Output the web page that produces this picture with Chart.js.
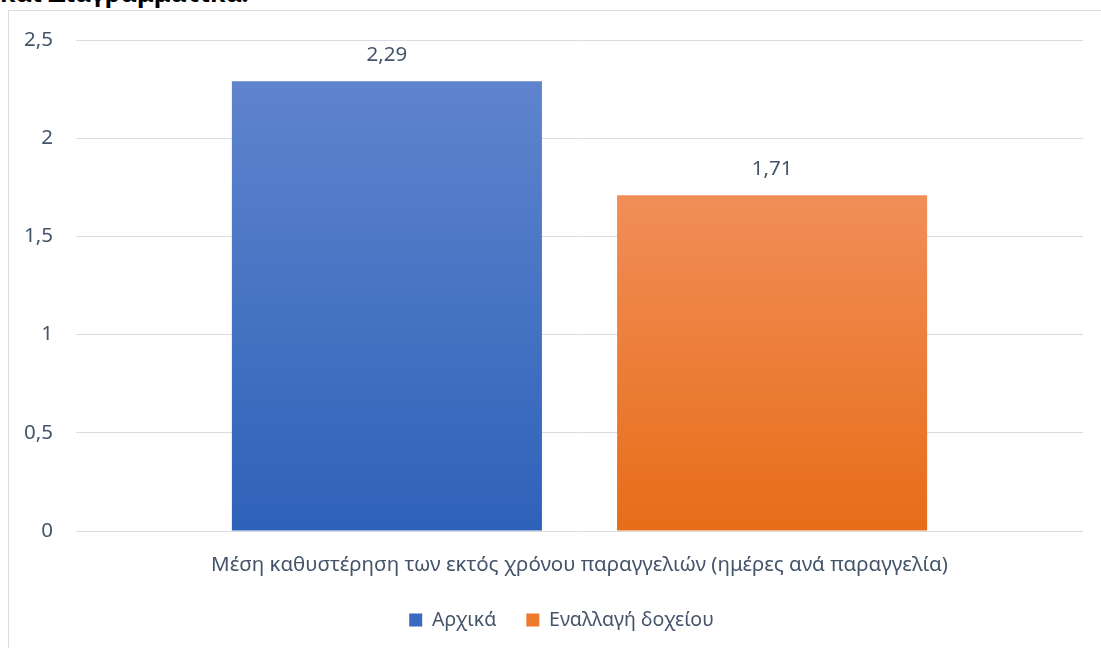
<!DOCTYPE html>
<html><head><meta charset="utf-8">
<script src="https://cdn.jsdelivr.net/npm/chart.js@4.4.1/dist/chart.umd.min.js"></script>
<style>
html,body{margin:0;padding:0;background:#fff;overflow:hidden;width:1101px;height:648px;position:relative}
#frame{position:absolute;left:8px;top:10px;width:1200px;height:700px;border:1px solid #D9DDE3;box-sizing:border-box}
#heading{position:absolute;left:0px;top:-22px;font:bold 25px 'Noto Sans';color:#000;white-space:nowrap;line-height:28px}
#wrap{position:absolute;left:0;top:0;width:1101px;height:648px}
</style>
</head><body>
<div id="heading">και Διαγραμματικά.</div>
<div id="frame"></div>
<div id="wrap"><canvas id="c"></canvas></div>
<script>
const categories = ["Μέση καθυστέρηση των εκτός χρόνου παραγγελιών (ημέρες ανά παραγγελία)"];
const seriesNames = ["Αρχικά", "Εναλλαγή δοχείου"];
const initialValues = [2.29];
const swapValues = [1.71];
const yTicks = [0, 0.5, 1, 1.5, 2, 2.5];

const FONT = "'Noto Sans'";
const TEXT = "#44546A";
const LEGEND_PAD = 30;
const LEGEND_FONT = 19.5;
const fmt = v => String(v).replace('.', ',');

function grad(top, bottom) {
  return function (ctx) {
    const chart = ctx.chart;
    const area = chart.chartArea;
    if (!area || ctx.parsed === undefined) return bottom;
    const y = chart.scales.y;
    const yTop = y.getPixelForValue(ctx.parsed.y);
    const yBot = y.getPixelForValue(0);
    const g = chart.ctx.createLinearGradient(0, yTop, 0, yBot);
    g.addColorStop(0, top);
    g.addColorStop(1, bottom);
    return g;
  };
}

const valueLabels = {
  id: 'valueLabels',
  afterDatasetsDraw(chart) {
    const c = chart.ctx;
    c.save();
    c.font = "20.5px " + FONT;
    c.fillStyle = TEXT;
    c.textAlign = 'center';
    c.textBaseline = 'middle';
    chart.data.datasets.forEach((ds, i) => {
      chart.getDatasetMeta(i).data.forEach((bar, j) => {
        c.fillText(fmt(ds.data[j]), bar.x, bar.y - 26);
      });
    });
    c.restore();
  }
};

const legendPlace = {
  id: 'legendPlace',
  afterLayout(chart) {
    const lg = chart.legend;
    if (!lg) return;
    lg.left += 20; lg.right += 20;
    const h = lg.bottom - lg.top;
    lg.top = 620 - LEGEND_PAD - LEGEND_FONT / 2;
    lg.bottom = lg.top + h;
  }
};

new Chart(document.getElementById('c'), {
  type: 'bar',
  data: {
    labels: categories,
    datasets: [
      { label: seriesNames[0], data: initialValues, backgroundColor: grad('#5F84CD', '#2E62B9'), legendColor: '#3A69C0' },
      { label: seriesNames[1], data: swapValues, backgroundColor: grad('#F18E58', '#E76D18'), legendColor: '#EE7A2C' }
    ]
  },
  options: {
    responsive: true,
    maintainAspectRatio: false,
    animation: false,
    categoryPercentage: 0.765,
    barPercentage: 0.805,
    layout: { padding: { left: 0, right: 18, top: 40, bottom: 0 } },
    plugins: {
      tooltip: { enabled: false },
      legend: {
        position: 'bottom',
        maxHeight: 57,
        labels: {
          font: { family: FONT, size: LEGEND_FONT },
          color: TEXT,
          boxWidth: 13,
          boxHeight: 13,
          padding: LEGEND_PAD,
          generateLabels(chart) {
            return chart.data.datasets.map((ds, i) => ({
              text: ds.label, fillStyle: ds.legendColor, strokeStyle: ds.legendColor,
              lineWidth: 0, fontColor: TEXT, datasetIndex: i, hidden: false
            }));
          }
        }
      }
    },
    scales: {
      x: {
        grid: { display: false },
        border: { display: false },
        ticks: { font: { family: FONT, size: 20.5 }, color: TEXT, padding: 13.7, maxRotation: 0, autoSkip: false }
      },
      y: {
        min: 0, max: 2.5,
        afterBuildTicks(scale) { scale.ticks = yTicks.map(v => ({ value: v })); },
        afterFit(scale) { scale.width = 76; },
        grid: { color: '#D9DDE3', lineWidth: 1, drawTicks: false },
        border: { display: false },
        ticks: { font: { family: FONT, size: 20.5 }, color: TEXT, padding: 23, callback: v => fmt(v) }
      }
    }
  },
  plugins: [valueLabels, legendPlace]
});
</script></body></html>
